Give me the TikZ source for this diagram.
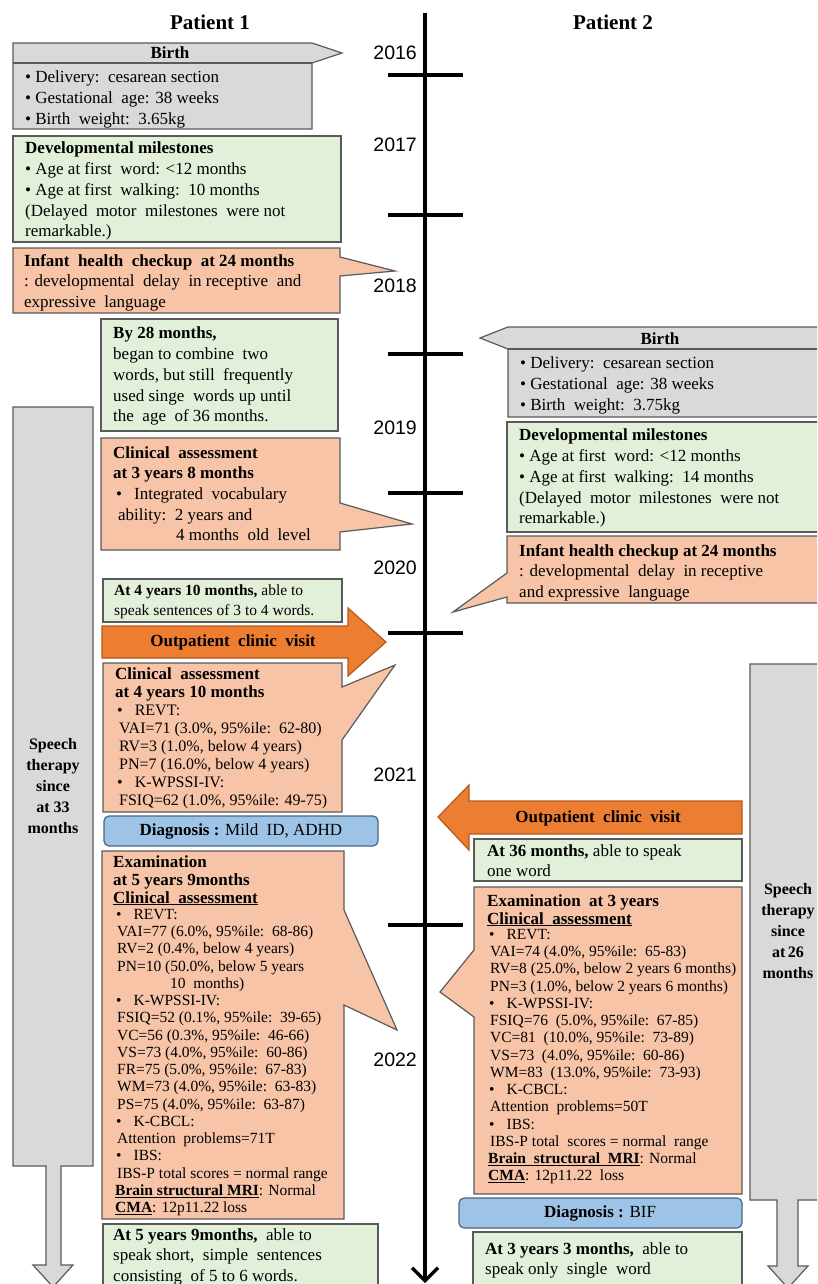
\documentclass[tikz,border=0pt]{standalone}
\usepackage{fontspec}
\setmainfont{Liberation Serif}
\newfontfamily\arialf{Liberation Sans}
\usetikzlibrary{arrows.meta}
\definecolor{grayc}{HTML}{D9D9D9}
\definecolor{greenc}{HTML}{E2F0D9}
\definecolor{peachc}{HTML}{F7C4A8}
\definecolor{orangec}{HTML}{ED7D31}
\definecolor{orangeline}{HTML}{B45A1E}
\definecolor{bluec}{HTML}{9DC3E6}
\definecolor{blueline}{HTML}{4A6684}
\definecolor{boxline}{HTML}{5A5A5A}
\tikzset{
  box/.style={draw=boxline, line width=1.2pt, line join=miter},
  graybox/.style={box, fill=grayc},
  greenbox/.style={box, fill=greenc},
  peachbox/.style={box, fill=peachc},
  orangearrow/.style={draw=orangeline, line width=1.2pt, fill=orangec},
  diagbox/.style={draw=blueline, line width=1.2pt, fill=bluec, rounded corners=5pt},
  txt/.style={anchor=north west, inner sep=0pt, align=left, font=\fontsize{17}{20.7}\selectfont},
  midtxt/.style={txt, font=\fontsize{16}{18}\selectfont},
  dense/.style={txt, font=\fontsize{15.5}{17.25}\selectfont},
  headtxt/.style={txt, font=\bfseries\fontsize{17}{18}\selectfont},
  ctxt/.style={anchor=center, inner sep=0pt, align=center, font=\fontsize{17}{20}\selectfont},
  sttxt/.style={anchor=center, inner sep=0pt, align=center, font=\bfseries\fontsize{16}{21}\selectfont},
  yearlbl/.style={anchor=east, inner sep=0pt, font=\arialf\fontsize{19.5}{20}\selectfont},
  titletxt/.style={anchor=center, inner sep=0pt, font=\bfseries\fontsize{21}{22}\selectfont},
  tickline/.style={line width=4pt},
}
\begin{document}
\begin{tikzpicture}[x=1pt,y=-1pt]
\useasboundingbox (0,0) rectangle (817,1284);
\clip (0,0) rectangle (817,1284);
\fill[white] (0,0) rectangle (817,1284);

% ---------- titles ----------
\node[titletxt] (t1) at (210,22) {Patient 1};
\node[titletxt] (t2) at (613,22) {Patient 2};

% ---------- timeline ----------
\coordinate (tltop) at (425,13);
\coordinate (tlbot) at (425,1283);
\draw[line width=3.8pt, -{Straight Barb[length=13pt,width=26pt,line width=3.2pt]}] (tltop) -- (tlbot);
\foreach \yy in {75,215,354,493,633,925}{
  \draw[tickline] (388,\yy) -- (463,\yy);
}
\node[yearlbl] (y16) at (417,53) {2016};
\node[yearlbl] (y17) at (417,145) {2017};
\node[yearlbl] (y18) at (417,286) {2018};
\node[yearlbl] (y19) at (417,428) {2019};
\node[yearlbl] (y20) at (417,568) {2020};
\node[yearlbl] (y21) at (417,775) {2021};
\node[yearlbl] (y22) at (417,1060) {2022};

% ================= Patient 1 =================
% speech therapy arrow
\draw[graybox] (13,407) -- (93,407) -- (93,1166) -- (61,1166) -- (61,1265) -- (73,1265) -- (53,1287) -- (33,1265) -- (46,1265) -- (46,1166) -- (13,1166) -- cycle;
\node[sttxt] (st1) at (53,786) {Speech\\therapy\\since\\at 33\\months};

% birth
\draw[graybox] (13,43) -- (312,43) -- (342,53) -- (312,63) -- (312,129) -- (13,129) -- cycle;
\draw[box] (13,63) -- (312,63);
\node[ctxt] (b1h) at (170,53) {\textbf{Birth}};
\node[txt] (b1) at (25,71) {• Delivery:\ \ cesarean section\\• Gestational\ \ age: 38 weeks\\• Birth\ \ weight:\ \ 3.65kg};

% developmental milestones
\draw[greenbox] (13,136) rectangle (341,242);
\node[txt] (dev1) at (25,142) {\textbf{Developmental milestones}\\• Age at first\ \ word: <12 months\\• Age at first\ \ walking:\ \ 10 months\\(Delayed\ \ motor\ \ milestones\ \ were not\\remarkable.)};

% infant health checkup
\draw[peachbox] (13,248) -- (340,248) -- (340,257) -- (395,271) -- (340,276) -- (340,313) -- (13,313) -- cycle;
\node[txt] (inf1) at (24,254) {\textbf{Infant\ \ health\ \ checkup\ \ at 24 months}\\: developmental\ \ delay\ \ in receptive\ \ and\\expressive\ \ language};

% by 28 months
\draw[greenbox] (101,319) rectangle (338,431);
\node[txt] (by28) at (113,327) {\textbf{By 28 months,}\\began to combine\ \ two\\words, but still\ \ frequently\\used singe\ \ words up until\\the\ \ age\ \ of 36 months.};

% clinical assessment 3y8m
\draw[peachbox] (101,438) -- (340,438) -- (340,503) -- (412,524) -- (340,532) -- (340,550) -- (101,550) -- cycle;
\node[txt] (ca38) at (113,446) {\textbf{Clinical\ \ assessment}\\\textbf{at 3 years 8 months}\\\hspace*{3pt}•\hspace{12pt}Integrated\ \ vocabulary\\\hspace*{5pt}ability:\ \ 2 years and\\\hspace*{63pt}4 months\ \ old\ \ level};

% at 4y10m
\draw[greenbox] (103,579) rectangle (342,622);
\node[txt, font=\fontsize{15.5}{20}\selectfont] (g410) at (114,585) {\textbf{At 4 years 10 months,} able to\\speak sentences of 3 to 4 words.};

% outpatient arrow
\draw[orangearrow] (102,626) -- (348,626) -- (348,608) -- (386,642) -- (348,676) -- (348,658) -- (102,658) -- cycle;
\node[ctxt] (op1) at (233,642) {\textbf{Outpatient\ \ clinic\ \ visit}};

% clinical assessment 4y10m
\draw[peachbox] (103,663) -- (342,663) -- (342,687) -- (395,665) -- (342,740) -- (342,812) -- (103,812) -- cycle;
\node[midtxt] (ca410) at (115,667) {\textbf{\fontsize{17}{18}\selectfont Clinical\ \ assessment}\\\textbf{\fontsize{17}{18}\selectfont at 4 years 10 months}\\\hspace*{2pt}•\hspace{12pt}REVT:\\\hspace*{4pt}VAI=71 (3.0\%, 95\%ile:\ \ 62-80)\\\hspace*{4pt}RV=3 (1.0\%, below 4 years)\\\hspace*{4pt}PN=7 (16.0\%, below 4 years)\\\hspace*{2pt}•\hspace{12pt}K-WPSSI-IV:\\\hspace*{4pt}FSIQ=62 (1.0\%, 95\%ile: 49-75)};

% diagnosis
\draw[diagbox] (104,816) rectangle (378,846);
\node[ctxt] (dg1) at (241,831) {\textbf{Diagnosis :} Mild\ \ ID, ADHD};

% examination 5y9m
\draw[peachbox] (102,851) -- (344,851) -- (344,910) -- (397,1030) -- (344,1005) -- (344,1219) -- (102,1219) -- cycle;
\node[headtxt] (ex59h) at (113,855) {Examination\\at 5 years 9months\\\underline{Clinical\ \ assessment}};
\node[dense] (ex59b) at (115,909) {\hspace*{1pt}•\hspace{12pt}REVT:\\\hspace*{2pt}VAI=77 (6.0\%, 95\%ile:\ \ 68-86)\\\hspace*{2pt}RV=2 (0.4\%, below 4 years)\\\hspace*{2pt}PN=10 (50.0\%, below 5 years\\\hspace*{55pt}10\ \ months)\\\hspace*{1pt}•\hspace{12pt}K-WPSSI-IV:\\\hspace*{2pt}FSIQ=52 (0.1\%, 95\%ile:\ \ 39-65)\\\hspace*{2pt}VC=56 (0.3\%, 95\%ile:\ \ 46-66)\\\hspace*{2pt}VS=73 (4.0\%, 95\%ile:\ \ 60-86)\\\hspace*{2pt}FR=75 (5.0\%, 95\%ile:\ \ 67-83)\\\hspace*{2pt}WM=73 (4.0\%, 95\%ile:\ \ 63-83)\\\hspace*{2pt}PS=75 (4.0\%, 95\%ile:\ \ 63-87)\\\hspace*{1pt}•\hspace{12pt}K-CBCL:\\\hspace*{2pt}Attention\ \ problems=71T\\\hspace*{1pt}•\hspace{12pt}IBS:\\\hspace*{2pt}IBS-P total scores = normal range\\\underline{\textbf{Brain structural MRI}}: Normal\\\underline{\textbf{CMA}}: 12p11.22 loss};

% at 5y9m
\draw[greenbox] (103,1224) rectangle (378,1300);
\node[txt] (g59) at (113,1228) {\textbf{At 5 years 9months,}\ \ able to\\speak short,\ \ simple\ \ sentences\\consisting\ \ of 5 to 6 words.};

% ================= Patient 2 =================
% speech therapy arrow
\draw[graybox] (750,664) -- (830,664) -- (830,1200) -- (798,1200) -- (798,1266) -- (808,1266) -- (788,1288) -- (768,1266) -- (777,1266) -- (777,1200) -- (750,1200) -- cycle;
\node[sttxt] (st2) at (788,931) {Speech\\therapy\\since\\at\,26\\months};

% birth
\draw[graybox] (830,327) -- (508,327) -- (480,338) -- (508,349) -- (508,417) -- (830,417) -- cycle;
\draw[box] (508,349) -- (830,349);
\node[ctxt] (b2h) at (660,339) {\textbf{Birth}};
\node[txt] (b2) at (520,357) {• Delivery:\ \ cesarean section\\• Gestational\ \ age: 38 weeks\\• Birth\ \ weight:\ \ 3.75kg};

% developmental milestones
\draw[greenbox] (507,422) rectangle (830,532);
\node[txt] (dev2) at (519,429) {\textbf{Developmental milestones}\\• Age at first\ \ word: <12 months\\• Age at first\ \ walking:\ \ 14 months\\(Delayed\ \ motor\ \ milestones\ \ were not\\remarkable.)};

% infant health checkup
\draw[peachbox] (507,536) -- (830,536) -- (830,603) -- (507,603) -- (507,597) -- (453,612) -- (507,573) -- cycle;
\node[txt] (inf2) at (519,544) {\textbf{Infant health checkup at 24 months}\\: developmental\ \ delay\ \ in receptive\\and expressive\ \ language};

% outpatient arrow
\draw[orangearrow] (742,801) -- (469,801) -- (469,785) -- (438,817) -- (469,850) -- (469,834) -- (742,834) -- cycle;
\node[ctxt] (op2) at (598,818) {\textbf{Outpatient\ \ clinic\ \ visit}};

% at 36 months
\draw[greenbox] (474,839) rectangle (742,881);
\node[txt] (g36) at (487,844) {\textbf{At 36 months,} able to speak\\one word};

% examination at 3 years
\draw[peachbox] (474,887) -- (742,887) -- (742,1194) -- (474,1194) -- (474,1017) -- (440,992) -- (474,950) -- cycle;
\node[headtxt] (ex3h) at (487,894) {Examination\ \ at 3 years\\\underline{Clinical\ \ assessment}};
\node[dense] (ex3b) at (488,929) {\hspace*{1pt}•\hspace{12pt}REVT:\\\hspace*{2pt}VAI=74 (4.0\%, 95\%ile:\ \ 65-83)\\\hspace*{2pt}RV=8 (25.0\%, below 2 years 6 months)\\\hspace*{2pt}PN=3 (1.0\%, below 2 years 6 months)\\\hspace*{1pt}•\hspace{12pt}K-WPSSI-IV:\\\hspace*{2pt}FSIQ=76\ \ (5.0\%, 95\%ile:\ \ 67-85)\\\hspace*{2pt}VC=81\ \ (10.0\%, 95\%ile:\ \ 73-89)\\\hspace*{2pt}VS=73\ \ (4.0\%, 95\%ile:\ \ 60-86)\\\hspace*{2pt}WM=83\ \ (13.0\%, 95\%ile:\ \ 73-93)\\\hspace*{1pt}•\hspace{12pt}K-CBCL:\\\hspace*{2pt}Attention\ \ problems=50T\\\hspace*{1pt}•\hspace{12pt}IBS:\\\hspace*{2pt}IBS-P total\ \ scores = normal\ \ range\\\underline{\textbf{Brain\ \ structural\ \ MRI}}: Normal\\\underline{\textbf{CMA}}: 12p11.22\ \ loss};

% diagnosis
\draw[diagbox] (459,1198) rectangle (742,1228);
\node[ctxt] (dg2) at (600,1213) {\textbf{Diagnosis :} BIF};

% at 3y3m
\draw[greenbox] (473,1232) rectangle (742,1300);
\node[txt] (g33) at (485,1242) {\textbf{At 3 years 3 months,}\ \ able to\\speak only\ \ single\ \ word};
\end{tikzpicture}
\end{document}
